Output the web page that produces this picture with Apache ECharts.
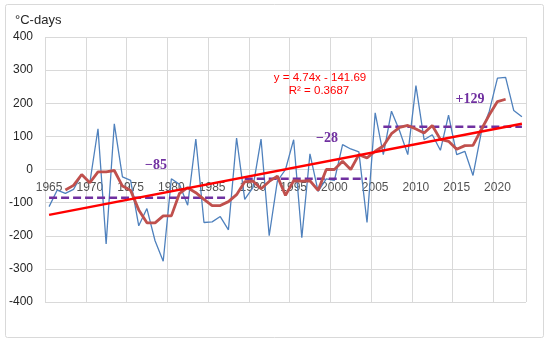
<!DOCTYPE html>
<html>
<head>
<meta charset="utf-8">
<script src="https://cdn.jsdelivr.net/npm/echarts@6/dist/echarts.min.js"></script>
<style>html,body{margin:0;padding:0;background:#fff}#c{width:550px;height:344px}</style>
</head>
<body>
<div id="c"></div>
<script>
// ---- data ----
const years = [];
for (let y = 1965; y <= 2023; y++) years.push(String(y));

const annual = [
  -112, -62, -72, -60, -15, -40, 123, -225, 138, -22,
  -33, -170, -118, -215, -277, -28, -45, -108, 92, -160,
  -158, -142, -182, 95, -90, -55, 92, -200, -35, 0,
  90, -206, 47, -66, -28, -33, 75, 62, 53, -160,
  171, 45, 176, 116, 45, 253, 90, 105, 58, 164,
  45, 55, -18, 110, 176, 276, 278, 178, 159
];

const movingAvg = [
  null, null, -62, -48, -15, -40, -7, -7, -3, -50,
  -63, -122, -161, -161, -140, -140, -72, -55, -70, -90,
  -109, -109, -97, -76, -37, -35, -58, -36, -20, -78,
  -34, -35, -34, -63, 0, 0, 25, 0, 45, 35,
  55, 71, 108, 127, 133, 122, 110, 133, 91, 85,
  61, 72, 73, 120, 165, 205, 212, null, null
];

const tickYears = ['1965', '1970', '1975', '1980', '1985', '1990', '1995', '2000', '2005', '2010', '2015', '2020'];

const periodStart = [1965, 1989, 2006];
const periodEnd = [1987, 2004, 2023];
const periodMean = [-85, -28, 129];
const periodLabel = ['\u221285', '\u221228', '+129'];

const trendSlope = 4.74;
const trendIntercept = -141.69;
const trendText = ['y = 4.74x - 141.69', 'R\u00b2 = 0.3687'];

const yTicks = { min: -400, max: 400, step: 100 };

// ---- build ----
const trend = years.map((y, i) => (i === 0 || i === years.length - 1) ? +(trendSlope * (i + 1) + trendIntercept).toFixed(2) : null);
const meanSeries = periodMean.map((m, k) => ({
  type: 'line', name: 'mean' + k, symbol: 'none', silent: true, z: 3,
  lineStyle: { color: '#7030a0', width: 2.5, type: [8, 4] },
  data: years.map(y => (+y >= periodStart[k] && +y <= periodEnd[k]) ? m : null)
}));

const chart = echarts.init(document.getElementById('c'), null, { renderer: 'canvas' });
const font = 'Liberation Sans, Arial, sans-serif';
const serif = 'Liberation Serif, Times New Roman, serif';

chart.setOption({
  animation: false,
  backgroundColor: '#fff',
  grid: { left: 45, right: 24, top: 37, bottom: 42 },
  title: {
    text: '\u00b0C-days', left: 10, top: 9,
    textStyle: { fontFamily: font, fontSize: 13, fontWeight: 'normal', color: '#262626' }
  },
  xAxis: {
    type: 'category', data: years, boundaryGap: true,
    axisLine: { show: false },
    axisTick: { show: false },
    axisLabel: { show: false },
    splitLine: { show: true, interval: (i) => i % 5 === 0, lineStyle: { color: '#d9d9d9', width: 1 } }
  },
  yAxis: {
    type: 'value', min: yTicks.min, max: yTicks.max, interval: yTicks.step,
    axisLine: { show: false }, axisTick: { show: false },
    axisLabel: { margin: 12, fontFamily: font, fontSize: 12, color: '#262626' },
    splitLine: { lineStyle: { color: '#d9d9d9', width: 1 } }
  },
  series: [
    { type: 'scatter', name: 'ticklabels', z: 1, silent: true, symbolSize: 0,
      data: tickYears.map(t => [t, 0]),
      label: { show: true, position: 'bottom', distance: 12, formatter: p => p.value[0],
               fontFamily: font, fontSize: 12, color: '#262626' } },
    { type: 'line', name: 'annual', data: annual, symbol: 'none', z: 2,
      lineStyle: { color: '#4f81bd', width: 1.3 } },
    ...meanSeries,
    { type: 'line', name: 'ma', data: movingAvg, symbol: 'none', z: 4,
      lineStyle: { color: '#c0504d', width: 2.8 } },
    { type: 'line', name: 'trend', data: trend, symbol: 'none', connectNulls: true, z: 5,
      lineStyle: { color: '#ff0000', width: 2.5 } }
  ],
  graphic: [
    { type: 'rect', shape: { x: 5.5, y: 4.5, width: 538, height: 333, r: 2 },
      style: { fill: 'none', stroke: '#d9d9d9', lineWidth: 1 }, silent: true, z: -1 },
    { type: 'text', x: 156, y: 165, style: { text: periodLabel[0], fontFamily: serif, fontWeight: 'bold', fontSize: 14, fill: '#7030a0', align: 'center', verticalAlign: 'middle' }, z: 10 },
    { type: 'text', x: 327, y: 138, style: { text: periodLabel[1], fontFamily: serif, fontWeight: 'bold', fontSize: 14, fill: '#7030a0', align: 'center', verticalAlign: 'middle' }, z: 10 },
    { type: 'text', x: 470, y: 99, style: { text: periodLabel[2], fontFamily: serif, fontWeight: 'bold', fontSize: 14, fill: '#7030a0', align: 'center', verticalAlign: 'middle' }, z: 10 },
    { type: 'text', x: 320, y: 78, style: { text: trendText[0], fontFamily: font, fontSize: 11.5, fill: '#ff0000', align: 'center', verticalAlign: 'middle' }, z: 10 },
    { type: 'text', x: 319, y: 91, style: { text: trendText[1], fontFamily: font, fontSize: 11.5, fill: '#ff0000', align: 'center', verticalAlign: 'middle' }, z: 10 }
  ]
});
</script>
</body>
</html>
